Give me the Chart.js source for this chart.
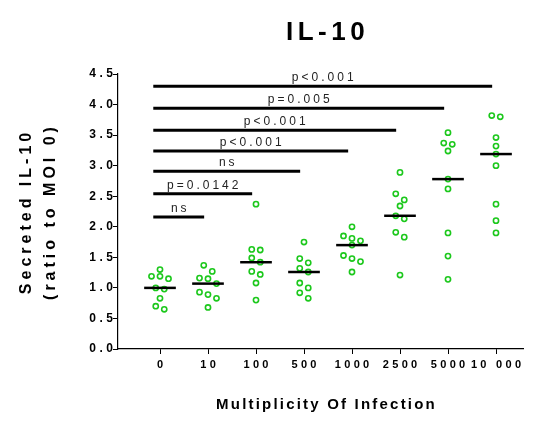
<!DOCTYPE html>
<html>
<head>
<meta charset="utf-8">
<script src="https://cdn.jsdelivr.net/npm/chart.js@4.4.1/dist/chart.umd.min.js"></script>
<style>
  html, body { margin: 0; padding: 0; background: #fff; }
  #wrap { width: 533px; height: 428px; }
</style>
</head>
<body>
<div id="wrap"><canvas id="il10Chart"></canvas></div>
<script>
// MOI groups on the x axis
var categories = ['0', '10', '100', '500', '1000', '2500', '5000', '10 000'];

// secreted IL-10, ratio to MOI 0 (one value per replicate)
var moi0     = [1.30, 1.19, 1.19, 1.15, 1.00, 0.98, 0.83, 0.70, 0.65];
var moi10    = [1.37, 1.27, 1.16, 1.15, 1.07, 0.93, 0.89, 0.83, 0.68];
var moi100   = [2.37, 1.63, 1.62, 1.49, 1.42, 1.27, 1.22, 1.08, 0.80];
var moi500   = [1.75, 1.48, 1.41, 1.32, 1.26, 1.08, 1.00, 0.92, 0.83];
var moi1000  = [2.00, 1.85, 1.81, 1.77, 1.70, 1.53, 1.48, 1.43, 1.26];
var moi2500  = [2.89, 2.54, 2.44, 2.34, 2.18, 2.13, 1.91, 1.83, 1.21];
var moi5000  = [3.54, 3.37, 3.35, 3.24, 2.78, 2.62, 1.90, 1.52, 1.14];
var moi10000 = [3.82, 3.80, 3.46, 3.32, 3.19, 3.00, 2.37, 2.10, 1.90];
var groups = [moi0, moi10, moi100, moi500, moi1000, moi2500, moi5000, moi10000];

// comparisons against MOI 0
var sigTo   = [7, 6, 5, 4, 3, 2, 1];
var sigText = ['p<0.001', 'p=0.005', 'p<0.001', 'p<0.001', 'ns', 'p=0.0142', 'ns'];
var sigY    = [4.30, 3.94, 3.58, 3.24, 2.91, 2.54, 2.16];

// y axis range
var yMin = 0, yMax = 4.5, yStep = 0.5;

var FONT = '"Liberation Sans", Arial, Helvetica, sans-serif';
var GREEN = 'rgb(28, 200, 28)';
var ROW_TOL = 0.105;     // values closer than this share a row in the scatter
var JITTER = 0.177;      // horizontal step between points of one row
var MEDIAN_HALF = 0.33;
var SIG_LEFT = 0.14, SIG_RIGHT = 0.08;

function median(a) {
  var s = a.slice().sort(function (p, q) { return p - q; });
  var m = Math.floor(s.length / 2);
  return s.length % 2 ? s[m] : (s[m - 1] + s[m]) / 2;
}

// simple column scatter: close values are spread sideways
function swarm(values, center) {
  var sorted = values.slice().sort(function (p, q) { return q - p; });
  var rows = [];
  sorted.forEach(function (v) {
    var row = rows[rows.length - 1];
    if (row && row[0] - v <= ROW_TOL) row.push(v); else rows.push([v]);
  });
  var pts = [];
  rows.forEach(function (row) {
    row.forEach(function (v, k) {
      pts.push({ x: center + (k - (row.length - 1) / 2) * JITTER, y: v });
    });
  });
  return pts;
}

// linear scale that draws its labels / title with letter spacing
class SpacedScale extends Chart.LinearScale {
  drawLabels(area) {
    var s = this.options.ticks.letterSpacing || 0;
    var ctx = this.ctx;
    ctx.save();
    ctx.letterSpacing = s + 'px';
    ctx.translate(this.isHorizontal() ? s / 2 : s, 0);
    super.drawLabels(area);
    ctx.restore();
  }
  drawTitle() {
    var t = this.options.title;
    var ctx = this.ctx;
    ctx.save();
    ctx.letterSpacing = (t.letterSpacing || 0) + 'px';
    ctx.translate(t.shiftX || 0, 0);
    super.drawTitle();
    ctx.restore();
  }
}
SpacedScale.id = 'spacedLinear';
SpacedScale.defaults = Chart.LinearScale.defaults;
Chart.register(SpacedScale);

var datasets = [];
groups.forEach(function (vals, i) {
  var m = median(vals);
  datasets.push({
    data: [{ x: i - MEDIAN_HALF, y: m }, { x: i + MEDIAN_HALF, y: m }],
    showLine: true, borderColor: '#000', borderWidth: 2.5, pointRadius: 0, order: 0
  });
  datasets.push({
    data: swarm(vals, i),
    pointRadius: 2.6, borderWidth: 1.6,
    borderColor: GREEN, backgroundColor: 'rgba(0,0,0,0)', order: 1
  });
});
sigTo.forEach(function (to, j) {
  datasets.push({
    data: [{ x: 0 - SIG_LEFT, y: sigY[j] }, { x: to - SIG_RIGHT, y: sigY[j] }],
    showLine: true, borderColor: '#000', borderWidth: 3, pointRadius: 0, order: 2
  });
});

var sigLabels = {
  id: 'sigLabels',
  beforeDraw: function (chart) {
    chart.ctx.letterSpacing = '4.5px';   // used by the chart title
  },
  afterLayout: function (chart) {
    chart.titleBlock.left += 7;
    chart.titleBlock.right += 7;
  },
  afterDatasetsDraw: function (chart) {
    var xs = chart.scales.x, ys = chart.scales.y, ctx = chart.ctx;
    ctx.save();
    ctx.font = '12px ' + FONT;
    ctx.letterSpacing = '3px';
    ctx.fillStyle = '#222';
    ctx.textAlign = 'center';
    ctx.textBaseline = 'alphabetic';
    sigTo.forEach(function (to, j) {
      var x1 = xs.getPixelForValue(0 - SIG_LEFT);
      var x2 = xs.getPixelForValue(to - SIG_RIGHT);
      ctx.fillText(sigText[j], (x1 + x2) / 2 + 1.5, ys.getPixelForValue(sigY[j]) - 5);
    });
    ctx.restore();
  }
};

Chart.defaults.font.family = FONT;

var c = document.getElementById('il10Chart').getContext('2d');
var il10Chart = new Chart(c, {
  type: 'scatter',
  data: { datasets: datasets },
  plugins: [sigLabels],
  options: {
    responsive: true,
    maintainAspectRatio: false,
    animation: false,
    events: [],
    layout: { padding: { top: 0, right: 10, bottom: 0, left: 0 } },
    plugins: {
      legend: { display: false },
      tooltip: { enabled: false },
      title: {
        display: true,
        text: 'IL-10',
        fullSize: false,
        color: '#000',
        font: { size: 26, weight: 'bold', lineHeight: 1 },
        padding: { top: 20, bottom: 28 }
      }
    },
    scales: {
      x: {
        type: 'spacedLinear',
        min: -0.875,
        max: 7.5625,
        afterBuildTicks: function (scale) {
          scale.ticks = categories.map(function (c, i) { return { value: i }; });
        },
        afterFit: function (scale) { scale.height = 79; },
        grid: { drawOnChartArea: false, tickLength: 5, color: '#000', lineWidth: 1 },
        border: { color: '#000', width: 1.2 },
        ticks: {
          autoSkip: false, maxRotation: 0, padding: 4, color: '#000',
          letterSpacing: 3.3,
          font: { size: 11, weight: 'bold' },
          callback: function (v) { return categories[v] !== undefined ? categories[v] : ''; }
        },
        title: {
          display: true,
          text: 'Multiplicity Of Infection',
          color: '#000',
          letterSpacing: 2.2,
          shiftX: 6,
          font: { size: 15, weight: 'bold', lineHeight: 1.2 },
          padding: { top: 0, bottom: 14 }
        }
      },
      y: {
        type: 'spacedLinear',
        min: yMin,
        max: yMax,
        afterFit: function (scale) { scale.width = 118; },
        grid: { drawOnChartArea: false, tickLength: 5, color: '#000', lineWidth: 1 },
        border: { color: '#000', width: 1.2 },
        ticks: {
          stepSize: yStep, padding: 0, color: '#000',
          letterSpacing: 3.5,
          font: { size: 12, weight: 'bold' },
          callback: function (v) { return v.toFixed(1); }
        },
        title: {
          display: true,
          text: ['Secreted IL-10', '(ratio to MOI 0)'],
          color: '#000',
          letterSpacing: 4,
          font: { size: 16, weight: 'bold', lineHeight: 1.47 },
          padding: { top: 15, bottom: 0 }
        }
      }
    }
  }
});
</script>
</body>
</html>
